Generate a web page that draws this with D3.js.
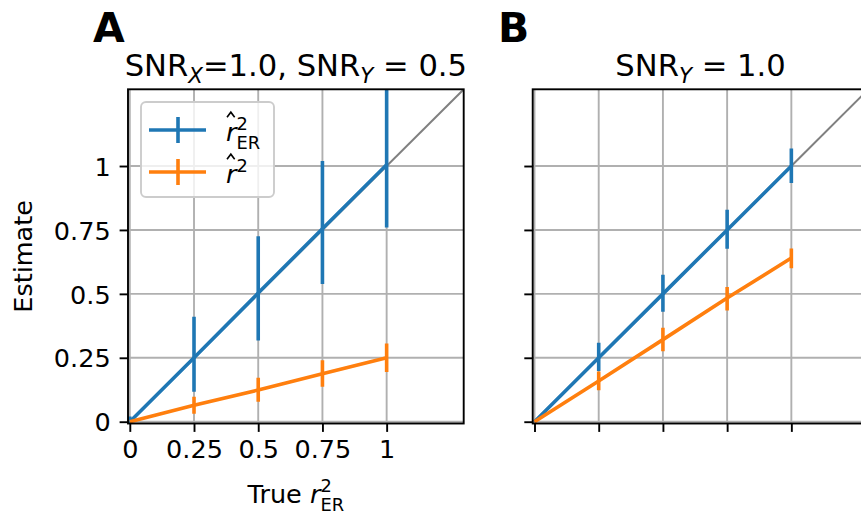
<!DOCTYPE html>
<html><head><meta charset="utf-8">
<script src="https://cdn.jsdelivr.net/npm/d3@7"></script>
<style>
body{margin:0;background:#fff}
text{font-family:"DejaVu Sans",sans-serif;fill:#000}
</style>
</head><body>
<svg id="chart" width="861" height="518"></svg>
<script>
// True explained-variance levels (x positions of every estimate)
const trueR2 = [0, 0.25, 0.5, 0.75, 1];
const tickValues = [0, 0.25, 0.5, 0.75, 1];
const tickLabels = ["0", "0.25", "0.5", "0.75", "1"];

// Panel A: SNR_X = 1.0, SNR_Y = 0.5
const aErMean = [0, 0.25, 0.503, 0.755, 1.005];
const aErLow  = [-0.004, 0.117, 0.318, 0.539, 0.76];
const aErHigh = [0.02, 0.41, 0.725, 1.02, 1.36];
const aRawMean = [0, 0.064, 0.124, 0.188, 0.25];
const aRawLow  = [0, 0.031, 0.078, 0.137, 0.194];
const aRawHigh = [0, 0.098, 0.172, 0.24, 0.306];

// Panel B: SNR_Y = 1.0
const bErMean = [0, 0.25, 0.5, 0.75, 1.0];
const bErLow  = [0, 0.198, 0.43, 0.676, 0.934];
const bErHigh = [0, 0.309, 0.575, 0.829, 1.068];
const bRawMean = [0, 0.159, 0.321, 0.484, 0.64];
const bRawLow  = [0, 0.123, 0.276, 0.435, 0.60];
const bRawHigh = [0, 0.196, 0.367, 0.527, 0.677];

const BLUE = "#1f77b4", ORANGE = "#ff7f0e", GRID = "#b0b0b0";
const TICK_FS = 25.5, TITLE_FS = 30.6, LW = 3.6, THIN = 1.9;
const domain = [-0.007, 1.3];
const plotTop = 89.3, plotBottom = 423.5, panelW = 335.7;

const svg = d3.select("#chart");

// Math-like label in a single <text>: pieces laid out left to right,
// superscript/subscript pieces marked `stack` share one x position.
function mathText(g, pieces, x, y, fs, anchor) {
  const grp = g.append("g");
  const txt = grp.append("text").attr("font-size", fs).style("white-space", "pre");
  let cx = 0, stackStart = null, stackW = 0;
  const hats = [];
  pieces.forEach(p => {
    const size = fs * (p.scale || 1);
    let px = cx;
    if (p.stack) { if (stackStart === null) { stackStart = cx; stackW = 0; } px = stackStart; }
    const t = txt.append("tspan")
      .attr("x", px).attr("y", (p.dy || 0) * fs)
      .attr("font-size", size)
      .attr("font-style", p.italic ? "italic" : "normal")
      .text(p.t);
    const w = t.node().getComputedTextLength();
    if (p.hat) hats.push([px, size]);
    if (p.stack) { stackW = Math.max(stackW, w); cx = stackStart + stackW; }
    else { stackStart = null; cx = px + w; }
  });
  // circumflex accents drawn as small strokes
  hats.forEach(([px, size]) => {
    grp.append("path")
      .attr("d", `M${px + 0.04 * size},${-0.93 * size} L${px + 0.19 * size},${-1.13 * size} L${px + 0.34 * size},${-0.93 * size}`)
      .attr("fill", "none").attr("stroke", "#000").attr("stroke-width", 1.6);
  });
  const off = anchor === "middle" ? -cx / 2 : anchor === "end" ? -cx : 0;
  grp.attr("transform", `translate(${x + off},${y})`);
  return grp;
}

function panel(left, o) {
  const x = d3.scaleLinear().domain(domain).range([left, left + panelW]);
  const y = d3.scaleLinear().domain(domain).range([plotBottom, plotTop]);
  const g = svg.append("g");
  const clipId = "clip" + Math.round(left);
  svg.append("clipPath").attr("id", clipId).append("rect")
    .attr("x", left).attr("y", plotTop).attr("width", panelW).attr("height", plotBottom - plotTop);

  const plot = g.append("g").attr("clip-path", `url(#${clipId})`);
  // grid
  plot.selectAll(".gx").data(tickValues).join("line")
    .attr("x1", d => x(d)).attr("x2", d => x(d)).attr("y1", plotTop).attr("y2", plotBottom)
    .attr("stroke", GRID).attr("stroke-width", THIN);
  plot.selectAll(".gy").data(tickValues).join("line")
    .attr("y1", d => y(d)).attr("y2", d => y(d)).attr("x1", left).attr("x2", left + panelW)
    .attr("stroke", GRID).attr("stroke-width", THIN);
  // identity line
  plot.append("line").attr("x1", x(0)).attr("y1", y(0)).attr("x2", x(1.3)).attr("y2", y(1.3))
    .attr("stroke", "#808080").attr("stroke-width", 2);

  const line = d3.line().x(d => x(d[0])).y(d => y(d[1]));
  [[o.er, BLUE], [o.raw, ORANGE]].forEach(([s, col]) => {
    const pts = trueR2.map((v, i) => [v, s.mean[i]]);
    plot.append("path").attr("d", line(pts)).attr("fill", "none")
      .attr("stroke", col).attr("stroke-width", LW);
    plot.selectAll(null).data(trueR2).join("line")
      .attr("x1", d => x(d)).attr("x2", d => x(d))
      .attr("y1", (d, i) => y(s.low[i])).attr("y2", (d, i) => y(s.high[i]))
      .attr("stroke", col).attr("stroke-width", LW);
  });

  // axes
  const xa = g.append("g").attr("transform", `translate(0,${plotBottom})`)
    .call(d3.axisBottom(x).tickValues(tickValues)
      .tickFormat((d, i) => o.xLabels ? tickLabels[i] : "")
      .tickSize(8.4).tickPadding(6));
  const ya = g.append("g").attr("transform", `translate(${left},0)`)
    .call(d3.axisLeft(y).tickValues(tickValues)
      .tickFormat((d, i) => o.yLabels ? tickLabels[i] : "")
      .tickSize(8.4).tickPadding(9));
  [xa, ya].forEach(a => {
    a.select(".domain").remove();
    a.selectAll(".tick line").attr("stroke", "#000").attr("stroke-width", THIN);
    a.selectAll(".tick text").attr("font-size", TICK_FS).attr("font-family", "DejaVu Sans").attr("fill", "#000");
  });
  ya.selectAll(".tick text").attr("dy", "0.36em");
  xa.selectAll(".tick text").attr("dy", "0.8em");

  // spines
  g.append("rect").attr("x", left).attr("y", plotTop).attr("width", panelW).attr("height", plotBottom - plotTop)
    .attr("fill", "none").attr("stroke", "#000").attr("stroke-width", THIN);

  return { x, y, g };
}

panel(128, {
  er: { mean: aErMean, low: aErLow, high: aErHigh },
  raw: { mean: aRawMean, low: aRawLow, high: aRawHigh },
  xLabels: true, yLabels: true
});
panel(532.7, {
  er: { mean: bErMean, low: bErLow, high: bErHigh },
  raw: { mean: bRawMean, low: bRawLow, high: bRawHigh },
  xLabels: false, yLabels: false
});

// panel letters
svg.append("text").attr("x", 93).attr("y", 42).attr("font-size", 41).attr("font-weight", "bold").text("A");
svg.append("text").attr("x", 498).attr("y", 42).attr("font-size", 41).attr("font-weight", "bold").text("B");

// titles
mathText(svg, [
  { t: "SNR" }, { t: "X", italic: true, scale: 0.7, dy: 0.23 },
  { t: "=1.0, SNR" }, { t: "Y", italic: true, scale: 0.7, dy: 0.23 },
  { t: " = 0.5" }
], 128 + panelW / 2, 76, TITLE_FS, "middle");
mathText(svg, [
  { t: "SNR" }, { t: "Y", italic: true, scale: 0.7, dy: 0.23 }, { t: " = 1.0" }
], 532.7 + panelW / 2, 76, TITLE_FS, "middle");

// axis labels
mathText(svg, [
  { t: "True " }, { t: "r", italic: true },
  { t: "2", scale: 0.7, dy: -0.45, stack: true },
  { t: "ER", scale: 0.7, dy: 0.32, stack: true }
], 128 + panelW / 2, 503, TICK_FS, "middle");
svg.append("text").attr("transform", `translate(32,${(plotTop + plotBottom) / 2}) rotate(-90)`)
  .attr("text-anchor", "middle").attr("font-size", TICK_FS).text("Estimate");

// legend
const lg = svg.append("g");
lg.append("rect").attr("x", 141).attr("y", 102).attr("width", 133).attr("height", 95)
  .attr("rx", 5).attr("fill", "#fff").attr("fill-opacity", 0.8)
  .attr("stroke", "#cccccc").attr("stroke-width", THIN);
[[BLUE, 130, true], [ORANGE, 172, false]].forEach(([col, cy, er]) => {
  lg.append("line").attr("x1", 149).attr("x2", 206).attr("y1", cy).attr("y2", cy)
    .attr("stroke", col).attr("stroke-width", LW);
  lg.append("line").attr("x1", 178).attr("x2", 178).attr("y1", cy - 13).attr("y2", cy + 13)
    .attr("stroke", col).attr("stroke-width", LW);
  const pieces = [{ t: "r", italic: true, hat: true },
    { t: "2", scale: 0.7, dy: -0.45, stack: true }];
  if (er) pieces.push({ t: "ER", scale: 0.7, dy: 0.32, stack: true });
  mathText(lg, pieces, 226, cy + 11, TICK_FS, "start");
});
</script>
</body></html>
